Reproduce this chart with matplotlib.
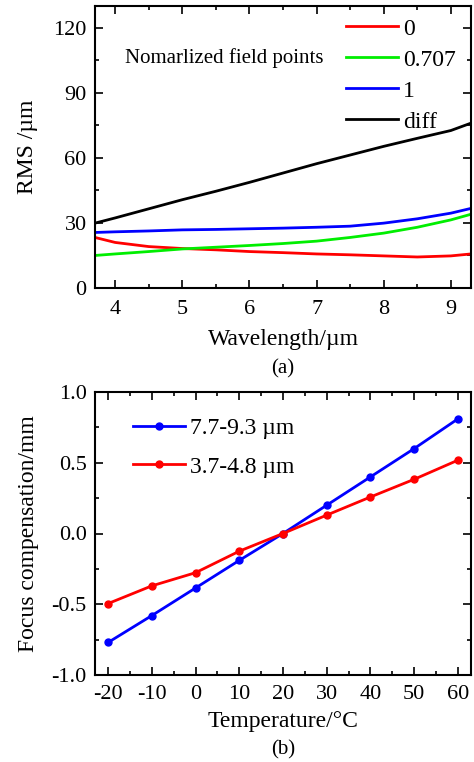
import matplotlib
matplotlib.use('Agg')
import matplotlib.pyplot as plt
from matplotlib.ticker import MultipleLocator

plt.rcParams['font.family'] = ['Liberation Serif', 'DejaVu Serif']
plt.rcParams['axes.unicode_minus'] = False

# (a) RMS vs wavelength
wl = [3.7, 4.0, 4.5, 5.0, 5.5, 6.0, 6.5, 7.0, 7.5, 8.0, 8.5, 9.0, 9.3]
rms_0 = [23.3, 21.0, 19.1, 18.2, 17.6, 16.8, 16.3, 15.7, 15.3, 14.8, 14.3, 14.8, 15.7]
rms_0707 = [15.0, 15.7, 16.8, 18.0, 18.8, 19.6, 20.5, 21.6, 23.3, 25.3, 28.0, 31.4, 34.0]
rms_1 = [25.6, 25.9, 26.3, 26.8, 27.0, 27.3, 27.6, 28.0, 28.5, 29.9, 31.9, 34.5, 36.7]
rms_diff = [29.9, 32.3, 36.5, 40.7, 44.6, 48.7, 53.0, 57.3, 61.3, 65.3, 69.0, 72.6, 76.0]

# (b) focus compensation vs temperature
temp = [-20, -10, 0, 10, 20, 30, 40, 50, 60]
focus_lwir = [-0.77, -0.58, -0.385, -0.19, 0.0, 0.20, 0.40, 0.60, 0.81]
focus_mwir = [-0.495, -0.37, -0.277, -0.125, 0.0, 0.13, 0.258, 0.383, 0.518]

fig = plt.figure(figsize=(4.74, 7.62), dpi=100)
W, H = 474, 762
ax1 = fig.add_axes([95 / W, 1 - 288 / H, 376 / W, 282 / H])
ax2 = fig.add_axes([95 / W, 1 - 675 / H, 376 / W, 283 / H])

for ax in (ax1, ax2):
    for s in ax.spines.values():
        s.set_linewidth(1.5)
    ax.tick_params(which='both', direction='in', top=True, right=True,
                   labelsize=16, width=1.2)
    ax.tick_params(which='major', length=5.8)
    ax.tick_params(which='minor', length=3)
    ax.tick_params(axis='y', pad=6)
ax1.tick_params(axis='x', pad=9)
ax2.tick_params(axis='x', pad=7)

lw = 2
ax1.plot(wl, rms_0, color='#ff0000', lw=lw, label='0')
ax1.plot(wl, rms_0707, color='#00ee00', lw=lw, label='0.707')
ax1.plot(wl, rms_1, color='#0000ff', lw=lw, label='1')
ax1.plot(wl, rms_diff, color='black', lw=lw, label='diff')
ax1.set_xlim(3.7, 9.3)
ax1.set_ylim(0, 130)
ax1.xaxis.set_major_locator(MultipleLocator(1))
ax1.xaxis.set_minor_locator(MultipleLocator(0.5))
ax1.yaxis.set_major_locator(MultipleLocator(30))
ax1.yaxis.set_minor_locator(MultipleLocator(15))
ax1.set_xlabel('Wavelength/µm', fontsize=17, labelpad=7)
ax1.set_ylabel('RMS /µm', fontsize=17, labelpad=11)
ax1.legend(loc='upper left', bbox_to_anchor=(0.668, 0.957), frameon=False,
           fontsize=17, handlelength=2.2, handletextpad=0.22,
           labelspacing=0.4, borderpad=0, borderaxespad=0)
ax1.text(0.08, 0.816, 'Nomarlized field points', transform=ax1.transAxes,
         fontsize=15, va='center')
fig.text(283 / W, 1 - 369 / H, '(a)', ha='center', va='center', fontsize=15)

ax2.plot(temp, focus_lwir, color='#0000ff', lw=lw, marker='o', ms=5,
         label='7.7-9.3 µm')
ax2.plot(temp, focus_mwir, color='#ff0000', lw=lw, marker='o', ms=5,
         label='3.7-4.8 µm')
ax2.set_xlim(-23, 63)
ax2.set_ylim(-1, 1)
ax2.xaxis.set_major_locator(MultipleLocator(10))
ax2.xaxis.set_minor_locator(MultipleLocator(5))
ax2.yaxis.set_major_locator(MultipleLocator(0.5))
ax2.yaxis.set_minor_locator(MultipleLocator(0.25))
ax2.yaxis.set_major_formatter(plt.FuncFormatter(lambda v, p: f'{v:.1f}'))
ax2.set_xlabel('Temperature/°C', fontsize=17, labelpad=5)
ax2.set_ylabel('Focus compensation/mm', fontsize=17, labelpad=9)
ax2.legend(loc='upper left', bbox_to_anchor=(0.101, 0.91), frameon=False,
           fontsize=17, handlelength=2.2, handletextpad=0.22,
           labelspacing=0.72, borderpad=0, borderaxespad=0)
fig.text(283 / W, 1 - 750 / H, '(b)', ha='center', va='center', fontsize=15)

fig.savefig('out.png', dpi=100)
